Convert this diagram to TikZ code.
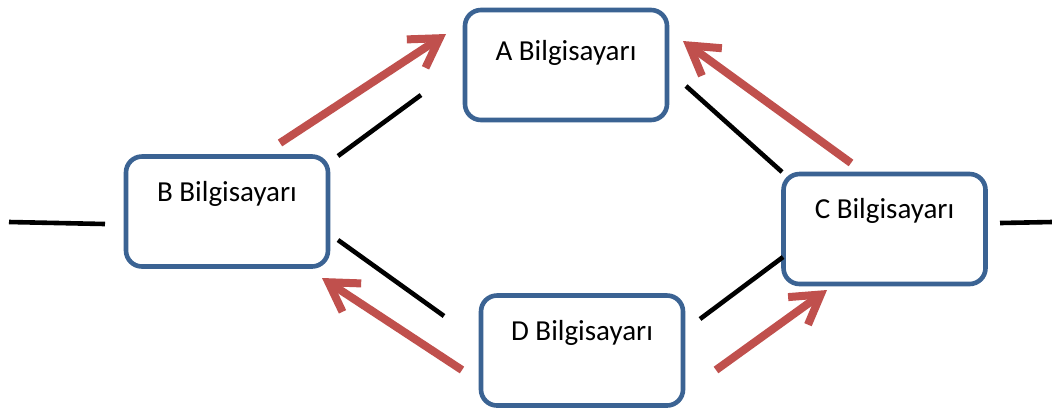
\documentclass[tikz,border=0pt]{standalone}
\usepackage{fontspec}
\setmainfont{Carlito}
\usetikzlibrary{arrows.meta}
\definecolor{PCBorder}{HTML}{3B6393}
\definecolor{PCRed}{HTML}{C0504D}
\tikzset{
  pc/.style={draw=PCBorder,line width=2.3pt,fill=white,rounded corners=8pt,
             minimum width=101pt,minimum height=55pt,inner xsep=0pt,inner ysep=0pt,
             text height=22.4pt,text depth=32.6pt,font=\fontsize{14.5}{17}\selectfont},
  wire/.style={black,line width=2.3pt},
  flow/.style={-{Straight Barb[length=14pt,width=17pt]},PCRed,line width=4pt},
}

\begin{document}
\begin{tikzpicture}[x=.5pt,y=-.5pt]
    \fill[white] (0,0) rectangle (1052,409);
    \useasboundingbox (0,0) rectangle (1052,409);

    \node[pc,text height=25pt,text depth=30pt] (A) at (566,65) {A Bilgisayarı};
    \node[pc] (B) at (227,211.5) {B Bilgisayarı};
    \node[pc] (C) at (884.5,229) {C Bilgisayarı};
    \node[pc] (D) at (582,350.5) {D Bilgisayarı};

    % cable ends
    \coordinate (outL) at (9,222);    \coordinate (inL) at (105,224);
    \coordinate (inR) at (1000,223);  \coordinate (outR) at (1052,222);
    \coordinate (BA1) at (338,156);   \coordinate (BA2) at (421,95);
    \coordinate (AC1) at (686,86);    \coordinate (AC2) at (782,172);
    \coordinate (BD1) at (338,240);   \coordinate (BD2) at (444,316);
    \coordinate (DC1) at (700,319);   \coordinate (DC2) at (783,257);

    \draw[wire] (outL) -- (inL);
    \draw[wire] (inR) -- (outR);
    \draw[wire] (BA1) -- (BA2);
    \draw[wire] (AC1) -- (AC2);
    \draw[wire] (BD1) -- (BD2);
    \draw[wire] (DC1) -- (DC2);

    % message flow
    \coordinate (fromB) at (280,143);  \coordinate (toA1) at (446,34);
    \coordinate (fromC) at (851,163);  \coordinate (toA2) at (683,41);
    \coordinate (fromD1) at (462,370); \coordinate (toB) at (322,278);
    \coordinate (fromD2) at (716,370); \coordinate (toC) at (827,290);

    \draw[flow] (fromB) -- (toA1);
    \draw[flow] (fromC) -- (toA2);
    \draw[flow] (fromD1) -- (toB);
    \draw[flow] (fromD2) -- (toC);
\end{tikzpicture}
\end{document}
